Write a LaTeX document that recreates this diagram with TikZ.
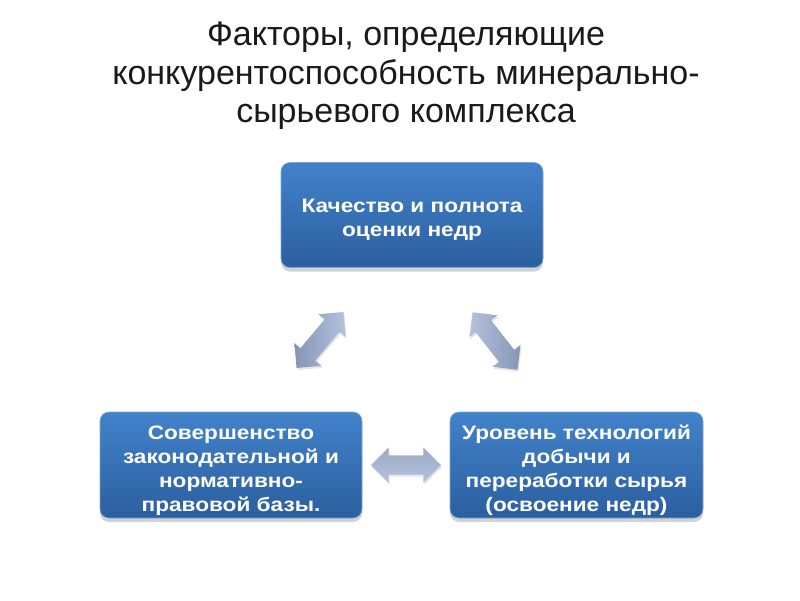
\documentclass[tikz,border=0pt]{standalone}
\usepackage{fontspec}
\setmainfont{Liberation Sans}
\newfontfamily\boxfont[FakeStretch=1.16]{Liberation Sans}
\usetikzlibrary{shapes.arrows,shadows,shadings}
\definecolor{boxtop}{HTML}{4282CA}
\definecolor{boxbot}{HTML}{2B5F9F}
\definecolor{arrA}{HTML}{8595B6}
\definecolor{arrB}{HTML}{B3C2DD}
\definecolor{titlecol}{HTML}{1A1A1A}
\tikzset{
  factor/.style={rounded corners=9pt, top color=boxtop, bottom color=boxbot,
    draw=boxtop!70!white, line width=0.6pt,
    drop shadow={opacity=0.35, shadow xshift=0pt, shadow yshift=-4pt},
    inner sep=0pt},
  boxtext/.style={text=white, align=center, inner sep=0pt,
    font=\boxfont\bfseries\fontsize{19.5}{24}\selectfont},
  darrow/.style={double arrow, draw=none, inner xsep=0pt, inner ysep=9.5pt,
    double arrow head extend=8pt,
    drop shadow={opacity=0.2, shadow xshift=1pt, shadow yshift=-2pt}},
}
\begin{document}
\begin{tikzpicture}[x=1pt,y=-1pt]
\useasboundingbox[fill=white] (0,0) rectangle (800,600);
\node[font=\fontsize{34}{38.5}\selectfont, text=titlecol, align=center] (title) at (406,76)
  {Факторы, определяющие\\конкурентоспособность минерально-\\сырьевого комплекса};
\node[factor, minimum width=262pt, minimum height=105pt] (top) at (412,215) {};
\node[factor, minimum width=262pt, minimum height=106pt] (left) at (231,465) {};
\node[factor, minimum width=253pt, minimum height=106pt] (right) at (576.5,465) {};
\node[boxtext] (toptext) at ([yshift=-5pt]top.center) {Качество и полнота\\оценки недр};
\node[boxtext] (lefttext) at ([yshift=-5.5pt]left.center) {Совершенство\\законодательной и\\нормативно-\\правовой базы.};
\node[boxtext] (righttext) at ([yshift=-5.5pt]right.center) {Уровень технологий\\добычи и\\переработки сырья\\(освоение недр)};
\node[darrow, minimum height=73pt, rotate=50, left color=arrA, right color=arrB] (a1) at (320,340) {};
\node[darrow, minimum height=73pt, rotate=-52, left color=arrB, right color=arrA] (a2) at (495,341) {};
\node[darrow, minimum height=70pt, top color=arrA!80!white, bottom color=arrB] (a3) at (406,465) {};
\end{tikzpicture}
\end{document}
